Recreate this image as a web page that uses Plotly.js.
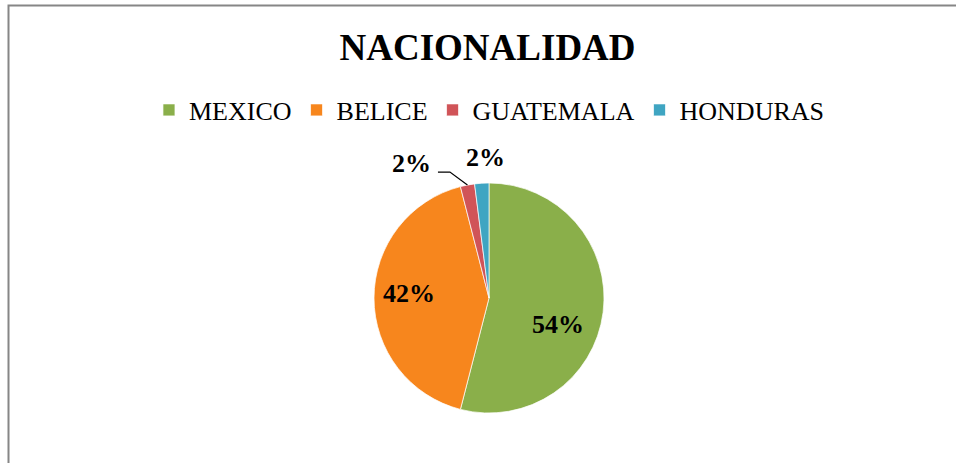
<!DOCTYPE html>
<html>
<head>
<meta charset="utf-8">
<script src="https://cdn.plot.ly/plotly-3.0.1.min.js"></script>
<style>html,body{margin:0;padding:0;background:#fff;}#chart{width:956px;height:463px;}</style>
</head>
<body>
<div id="chart"></div>
<script>
const categories = ["MEXICO", "BELICE", "GUATEMALA", "HONDURAS"];
const values = [54, 42, 2, 2];
const colors = ["#8AAF4A", "#F7861D", "#D05458", "#3FA5C2"];

// label placement style (radius as fraction of pie radius, angle offset in degrees)
const labelRadius = [0.64, 0.70, 1.35, 1.22];
const labelAngleShift = [14, 3, -19, 2];

const W = 956, H = 463;
const cx = 489, cy = 298, r = 115;

const total = values.reduce((a, b) => a + b, 0);
let cum = 0;
const midAngles = values.map(v => { const m = (cum + v / 2) / total * 360; cum += v; return m; });
const toPaper = (px, py) => [px / W, 1 - py / H];
const polar = (deg, rad) => {
  const t = deg * Math.PI / 180;
  return [cx + rad * Math.sin(t), cy - rad * Math.cos(t)];
};

const annotations = values.map((v, i) => {
  const [px, py] = polar(midAngles[i] + labelAngleShift[i], labelRadius[i] * r);
  const [x, y] = toPaper(px, py);
  return {
    xref: "paper", yref: "paper", x: x, y: y, xanchor: "center", yanchor: "middle",
    text: Math.round(v / total * 100) + "%", showarrow: false,
    font: { family: "Liberation Serif", size: 26, color: "#000", weight: "bold" }
  };
});

// leader line for the GUATEMALA label
const edge = polar(midAngles[2], r);
const knee = [edge[0] - 17.5, edge[1] - 13];
const tail = [knee[0] - 12, knee[1]];
const pts = [edge, knee, tail].map(p => toPaper(p[0], p[1]));
const leaderPath = "M" + pts.map(p => p[0] + "," + p[1]).join(" L");

const trace = {
  type: "pie",
  labels: categories,
  values: values,
  sort: false,
  direction: "clockwise",
  rotation: 0,
  marker: { colors: colors, line: { color: "rgba(255,255,255,0.7)", width: 1 } },
  textinfo: "none",
  textposition: "none",
  hoverinfo: "label+percent",
  domain: { x: [(cx - r) / W, (cx + r) / W], y: [(H - cy - r) / H, (H - cy + r) / H] }
};

const layout = {
  width: W, height: H,
  margin: { l: 0, r: 0, t: 0, b: 0 },
  paper_bgcolor: "#fff",
  font: { family: "Liberation Serif", color: "#000" },
  title: {
    text: "NACIONALIDAD",
    font: { family: "Liberation Serif", size: 37, color: "#000", weight: "bold" },
    x: 0.51, xanchor: "center",
    y: 1 - 47 / H, yanchor: "middle", yref: "container"
  },
  showlegend: true,
  legend: {
    orientation: "h",
    x: 0.512, xanchor: "center",
    y: 1 - 110 / H, yanchor: "middle",
    font: { family: "Liberation Serif", size: 26, color: "#000" },
    traceorder: "normal"
  },
  annotations: annotations,
  shapes: [{
    type: "rect", xref: "paper", yref: "paper",
    x0: 8.5 / W, x1: 1.02, y0: -0.02, y1: 1 - 5.5 / H,
    line: { color: "#868686", width: 2 }, fillcolor: "rgba(0,0,0,0)", layer: "below"
  }, {
    type: "path", xref: "paper", yref: "paper", path: leaderPath,
    line: { color: "#000", width: 1.2 }
  }]
};

Plotly.newPlot("chart", [trace], layout, { displayModeBar: false, staticPlot: true });
</script>
</body>
</html>
